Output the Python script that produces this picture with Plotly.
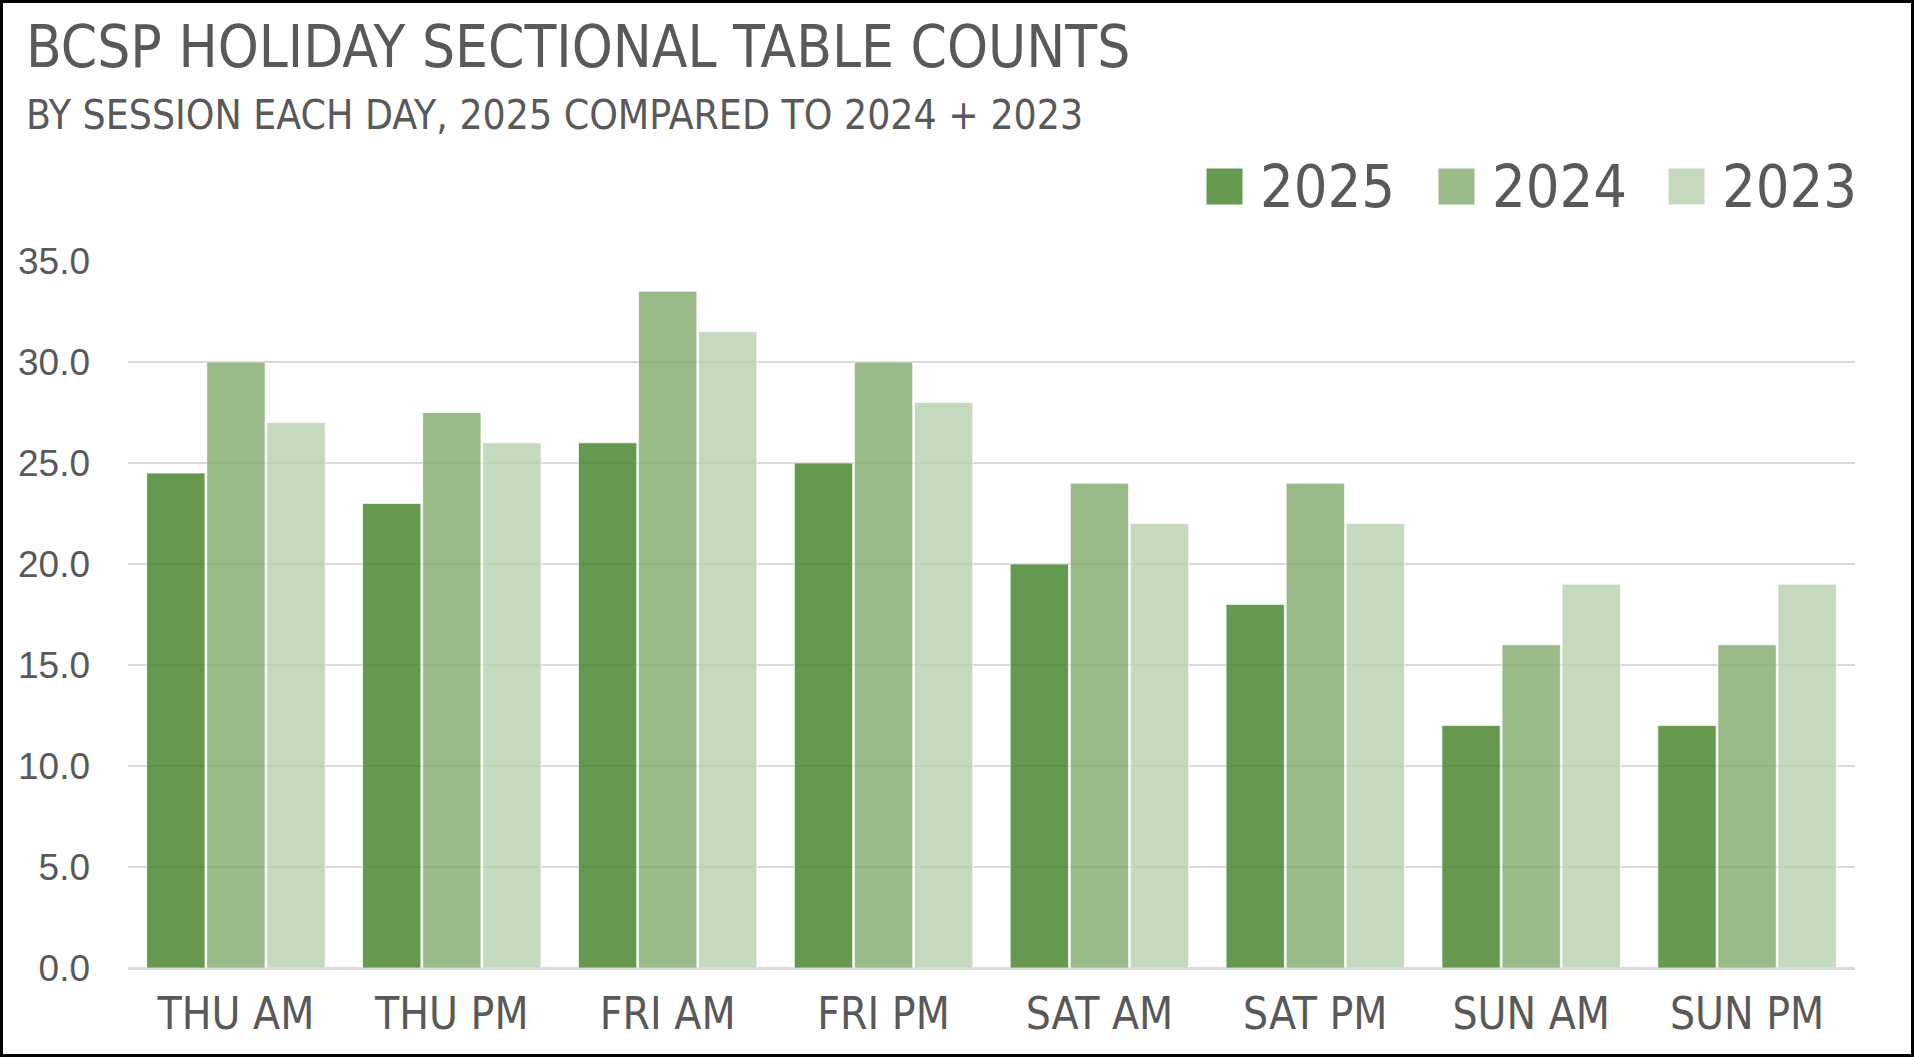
import plotly.graph_objects as go

# data
sessions = ["THU AM", "THU PM", "FRI AM", "FRI PM", "SAT AM", "SAT PM", "SUN AM", "SUN PM"]
years = ["2025", "2024", "2023"]
tables_2025 = [24.5, 23, 26, 25, 20, 18, 12, 12]
tables_2024 = [30, 27.5, 33.5, 30, 24, 24, 16, 16]
tables_2023 = [27, 26, 31.5, 28, 22, 22, 19, 19]
y_ticks = [0, 5, 10, 15, 20, 25, 30, 35]

W, H = 1914, 1057
L, R, T, B = 128, 59, 261, 89
PW, PH = W - L - R, H - T - B

# bars are a bit see-through in the original (gridlines show through)
bar_colors = ["rgba(63,128,36,0.8)", "rgba(129,169,109,0.8)", "rgba(181,208,173,0.8)"]
swatch_colors = ["#659a50", "#9aba8a", "#c4d9bd"]
grey = "#595959"
narrow = "Liberation Sans Narrow, DejaVu Sans Condensed, Arial Narrow, sans-serif"


def px_x(px):
    return (px - L) / PW


def px_y(py):
    return 1 - (py - T) / PH


fig = go.Figure()
for name, vals, col in zip(years, [tables_2025, tables_2024, tables_2023], bar_colors):
    fig.add_trace(go.Bar(
        x=sessions, y=vals, name=name,
        marker=dict(color=col, line=dict(color="rgba(255,255,255,0.7)", width=1)),
        showlegend=False,
    ))

# title + subtitle
fig.add_annotation(text="BCSP HOLIDAY SECTIONAL TABLE COUNTS", x=px_x(24), y=px_y(47),
                   xref="paper", yref="paper", xanchor="left", yanchor="middle",
                   showarrow=False, font=dict(family=narrow, size=58, color=grey))
fig.add_annotation(text="BY SESSION EACH DAY, 2025 COMPARED TO 2024 + 2023", x=px_x(24), y=px_y(115),
                   xref="paper", yref="paper", xanchor="left", yanchor="middle",
                   showarrow=False, font=dict(family=narrow, size=40.5, color=grey))

# legend drawn as swatch + label (big squares like the original)
swatch_x = [1206, 1438, 1668]
label_x = [1258, 1490, 1720]
for name, col, sx, lx in zip(years, swatch_colors, swatch_x, label_x):
    fig.add_annotation(text=" ", x=px_x(sx), y=px_y(187), xref="paper", yref="paper",
                       xanchor="left", yanchor="middle", showarrow=False,
                       width=35, height=35, bgcolor=col, borderpad=0,
                       font=dict(size=10))
    fig.add_annotation(text=name, x=px_x(lx), y=px_y(186), xref="paper", yref="paper",
                       xanchor="left", yanchor="middle", showarrow=False,
                       font=dict(family=narrow, size=59, color=grey))

# outer black frame
fig.add_shape(type="rect", xref="paper", yref="paper",
              x0=px_x(1.5), x1=px_x(W - 1.5), y0=px_y(H - 1.5), y1=px_y(1.5),
              line=dict(color="black", width=3))

fig.update_layout(
    width=W, height=H,
    margin=dict(l=L, r=R, t=T, b=B),
    paper_bgcolor="white", plot_bgcolor="white",
    barmode="group", bargap=0.165, bargroupgap=0.03,
    xaxis=dict(tickfont=dict(family=narrow, size=44, color=grey),
               showgrid=False, showline=False, ticklabelstandoff=16),
    yaxis=dict(range=[0, 35], tickvals=y_ticks, tickformat=".1f",
               tickfont=dict(family="Liberation Sans, Arial, sans-serif", size=37, color=grey),
               showgrid=True, gridcolor="#d9d9d9", gridwidth=2,
               zeroline=True, zerolinecolor="#d9d9d9", zerolinewidth=3,
               showline=False, ticklabelstandoff=37),
)

fig.write_html("out.html", config={"displayModeBar": False},
               post_script="document.body.style.margin='0';")
